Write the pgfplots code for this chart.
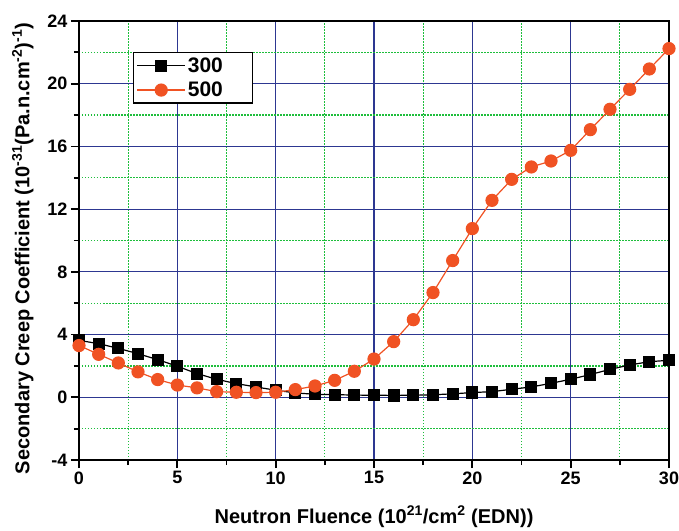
\documentclass[border=0pt]{standalone}
\usepackage{fontspec}
\setmainfont{Liberation Sans}
\usepackage{pgfplots}
\pgfplotsset{compat=1.18}
\definecolor{gridblue}{RGB}{45,55,145}
\definecolor{gridgreen}{RGB}{30,190,60}
\definecolor{orng}{RGB}{240,82,35}
\begin{document}
\begin{tikzpicture}
\begin{axis}[
    name=a, scale only axis, width=590pt, height=439pt,
    xmin=0, xmax=30, ymin=-4, ymax=24,
    xtick={0,5,...,30}, ytick={-4,0,...,24},
    minor xtick={2.5,7.5,...,27.5}, minor ytick={-2,2,...,22},
    grid=both,
    major grid style={gridblue, line width=1.2pt},
    minor grid style={gridgreen, dash pattern=on 1.5pt off 1.5pt, line width=1.2pt},
    axis line style={black, line width=2pt},
    tick pos=left, tick align=outside,
    major tick length=8pt, minor tick length=5pt,
    tick style={black, line width=1.8pt},
    /pgf/number format/assume math mode=true,
    tick label style={font=\fontsize{18}{20}\selectfont\bfseries},
    xlabel style={font=\fontsize{20}{22}\selectfont\bfseries, yshift=-15pt},
    ylabel style={font=\fontsize{20}{22}\selectfont\bfseries, yshift=7pt, xshift=-8pt},
    xlabel={Neutron Fluence (10\textsuperscript{21}/cm\textsuperscript{2} (EDN))},
    ylabel={Secondary Creep Coefficient (10\textsuperscript{-31}(Pa.n.cm\textsuperscript{-2})\textsuperscript{-1})},
    legend style={at={(0.0915,0.929)}, anchor=north west, draw=black, line width=1.3pt,
        font=\fontsize{21}{23}\selectfont\bfseries, inner sep=3pt, row sep=4pt},
    legend cell align=left,
    legend image code/.code={\draw[mark repeat=2, mark phase=2] plot coordinates {(0pt,0pt) (24pt,0pt) (48pt,0pt)};},
    clip=false,
]
\addplot[black, line width=1.2pt, mark=square*, mark size=5.5pt, mark options={solid}] coordinates {
(0,3.63) (1,3.42) (2,3.12) (3,2.78) (4,2.40) (5,1.98) (6,1.51) (7,1.15) (8,0.87) (9,0.66)
(10,0.45) (11,0.28) (12,0.19) (13,0.17) (14,0.14) (15,0.13) (16,0.12) (17,0.13) (18,0.16) (19,0.22)
(20,0.30) (21,0.36) (22,0.51) (23,0.66) (24,0.89) (25,1.15) (26,1.45) (27,1.78) (28,2.06) (29,2.27) (30,2.36)};
\addplot[orng, line width=1.2pt, mark=*, mark size=6pt] coordinates {
(0,3.30) (1,2.74) (2,2.19) (3,1.62) (4,1.13) (5,0.78) (6,0.60) (7,0.36) (8,0.32) (9,0.30)
(10,0.32) (11,0.49) (12,0.72) (13,1.08) (14,1.66) (15,2.44) (16,3.55) (17,4.95) (18,6.68) (19,8.72)
(20,10.76) (21,12.56) (22,13.90) (23,14.69) (24,15.07) (25,15.75) (26,17.07) (27,18.37) (28,19.64) (29,20.94) (30,22.24)};
\legend{\makebox[60pt][l]{300},\makebox[60pt][l]{500}}
\end{axis}
\pgfresetboundingbox
\path ([xshift=-79pt,yshift=-70pt]a.south west) rectangle ([xshift=10pt,yshift=21pt]a.north east);
\end{tikzpicture}
\end{document}
